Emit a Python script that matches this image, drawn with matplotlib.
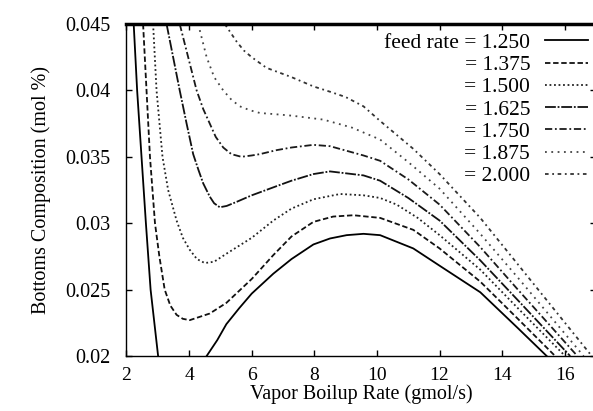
import numpy as np
import matplotlib
matplotlib.use("Agg")
import matplotlib.pyplot as plt

plt.rcParams['font.family'] = ['Liberation Serif', 'DejaVu Serif']

# feed rates and the curves (vapor boilup, bottoms comp.)
feed_rates = ["1.250", "1.375", "1.500", "1.625", "1.750", "1.875", "2.000"]

x_125 = [2.23, 2.34, 2.48, 2.62, 2.77, 3.01, np.nan,
         4.56, 4.9, 5.19, 5.6, 6.0, 6.69, 7.27, 7.97, 8.5, 9.03, 9.57, 10.1, 11.16, 12.0, 13.3, 14.5, 15.42]
y_125 = [0.045, 0.040, 0.035, 0.030, 0.025, 0.020, np.nan,
         0.020, 0.0212, 0.0224, 0.0236, 0.0247, 0.0262, 0.0273, 0.0284, 0.02885, 0.0291, 0.0292, 0.0291, 0.0281,
         0.0268, 0.0248, 0.0221, 0.020]

x_1375 = [2.53, 2.64, 2.75, 2.91, 3.05, 3.22, 3.4, 3.6, 3.8, 4.02, 4.66, 5.19, 6.0, 6.69, 7.27, 7.97, 8.6, 9.25,
          10.1, 11.16, 12.0, 13.3, 14.5, 15.69]
y_1375 = [0.045, 0.040, 0.035, 0.030, 0.0275, 0.025, 0.0238, 0.0231, 0.0228, 0.0227, 0.0232, 0.0240, 0.0258, 0.0276,
          0.0290, 0.0301, 0.0305, 0.0306, 0.0304, 0.0295, 0.0281, 0.0256, 0.0228, 0.020]

x_15 = [2.85, 2.96, 3.15, 3.33, 3.6, 3.8, 4.02, 4.25, 4.5, 4.8, 5.19, 6.0, 6.69, 7.27, 7.97, 8.82, 9.57, 10.1,
        10.63, 11.3, 12.0, 13.3, 14.5, 16.01]
y_15 = [0.045, 0.040, 0.035, 0.0325, 0.0302, 0.0289, 0.0280, 0.0273, 0.0270, 0.0271, 0.0277, 0.0289, 0.0302,
        0.0311, 0.0318, 0.0322, 0.0321, 0.0319, 0.0314, 0.0304, 0.0291, 0.0265, 0.0236, 0.020]

x_1625 = [3.28, 3.49, 3.70, 3.92, 4.13, 4.3, 4.45, 4.66, 4.8, 4.98, 5.2, 5.51, 6.0, 6.69, 7.27, 7.97, 8.5, 9.57,
          10.1, 11.0, 12.0, 13.3, 14.5, 16.17]
y_1625 = [0.045, 0.0425, 0.040, 0.0375, 0.0352, 0.0340, 0.0330, 0.0320, 0.0315, 0.0312, 0.0313, 0.0316, 0.0321,
          0.0327, 0.0332, 0.0337, 0.0339, 0.0336, 0.0332, 0.0319, 0.0302, 0.0272, 0.0242, 0.020]

x_175 = [3.70, 3.97, 4.24, 4.45, 4.66, 4.85, 5.09, 5.35, 5.67, 6.0, 6.26, 6.79, 7.27, 7.97, 8.5, 9.57, 10.1,
         11.0, 12.0, 13.3, 14.5, 16.4]
y_175 = [0.045, 0.0425, 0.040, 0.0386, 0.0375, 0.0365, 0.0357, 0.0352, 0.0350, 0.0351, 0.0352, 0.0355, 0.0357,
         0.0359, 0.0358, 0.0351, 0.0347, 0.0333, 0.0314, 0.0282, 0.0250, 0.020]

x_1875 = [4.29, 4.56, 4.8, 5.09, 5.35, 5.62, 5.95, 6.26, 6.79, 7.27, 8.29, 9.2, 10.1, 11.0, 12.0, 13.3, 14.5, 16.6]
y_1875 = [0.045, 0.0425, 0.0410, 0.0400, 0.0393, 0.0388, 0.0385, 0.0383, 0.0382, 0.0381, 0.0378, 0.0372, 0.0363,
          0.0346, 0.0326, 0.0292, 0.0259, 0.020]

x_2 = [5.14, 5.51, 5.75, 6.0, 6.47, 7.27, 7.97, 8.5, 9.0, 9.57, 10.1, 11.16, 12.0, 13.3, 14.5, 16.86]
y_2 = [0.045, 0.0437, 0.0430, 0.0425, 0.0417, 0.0410, 0.0403, 0.0399, 0.0395, 0.0388, 0.0377, 0.0356, 0.0337,
       0.0304, 0.0269, 0.020]

xs = [x_125, x_1375, x_15, x_1625, x_175, x_1875, x_2]
ys = [y_125, y_1375, y_15, y_1625, y_175, y_1875, y_2]

styles = ['-', (0, (3, 1.5)), (0, (1, 1.5)), (0, (6, 1, 1, 1)),
          (0, (4, 1.5, 1, 1.5)), (0, (1, 2.5)), (0, (2, 2, 1, 2))]
colors = ['black', '#111111', '#222222', '#111111', '#1a1a1a', '#444444', '#333333']

fig = plt.figure(figsize=(5.93, 4.11), dpi=100)
ax = fig.add_axes([0.2133, 0.1338, 0.792, 0.8078])

for i in range(len(feed_rates)):
    label = ("feed rate = " if i == 0 else "= ") + feed_rates[i]
    ax.plot(xs[i], ys[i], linestyle=styles[i], color=colors[i], lw=1.3, label=label)

ax.set_xlim(2, 17)
ax.set_ylim(0.02, 0.045)
ax.set_xticks([2, 4, 6, 8, 10, 12, 14, 16])
ax.set_yticks([0.02, 0.025, 0.03, 0.035, 0.04, 0.045])
ax.set_yticklabels(["0.02", "0.025", "0.03", "0.035", "0.04", "0.045"])
ax.tick_params(direction='in', top=True, right=True, length=4, width=1, labelsize=14.5)
ax.tick_params(axis='x', labelsize=14, pad=8)
ax.tick_params(axis='y', pad=11.5)
for s in ['left', 'bottom', 'right']:
    ax.spines[s].set_linewidth(1.0)
ax.spines['top'].set_linewidth(2.5)

ax.set_xlabel("Vapor Boilup Rate (gmol/s)", fontsize=14.5, labelpad=0)
ax.set_ylabel("Bottoms Composition (mol %)", fontsize=14.5, labelpad=10)

ax.legend(loc='upper right', bbox_to_anchor=(0.992, 0.92), bbox_transform=fig.transFigure,
          frameon=False, markerfirst=False, fontsize=15.5, handlelength=2.0,
          handletextpad=0.7, labelspacing=0.1, borderpad=0, borderaxespad=0)

fig.savefig("out.png", dpi=100)
